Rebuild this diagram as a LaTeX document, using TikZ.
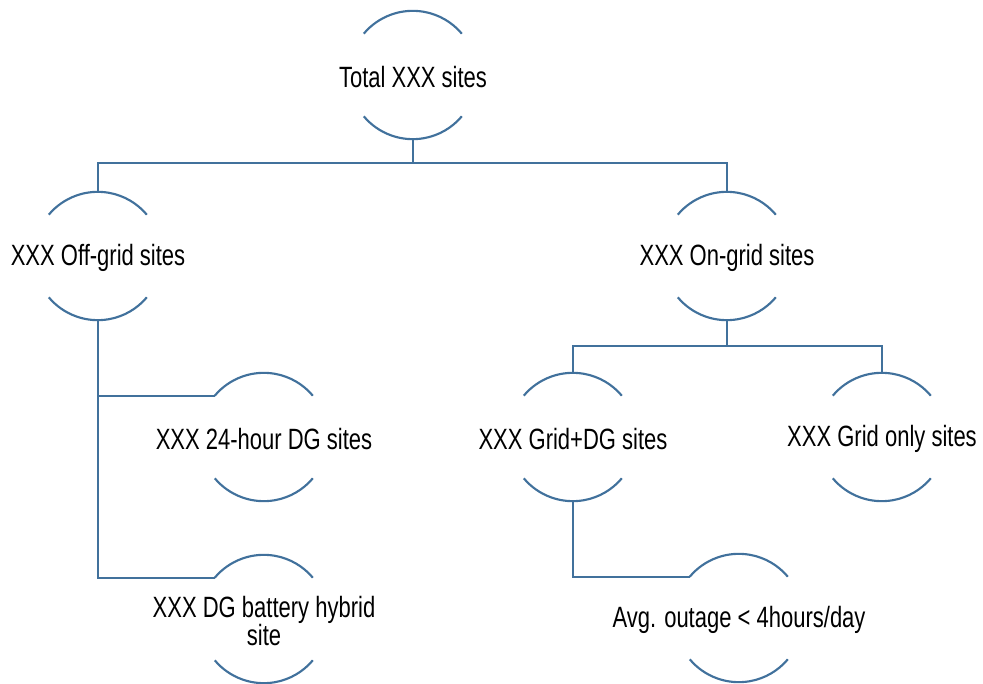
\documentclass[tikz,border=0pt]{standalone}
\usepackage{fontspec}
\setmainfont{Liberation Sans}[FakeStretch=0.75]
\definecolor{rimblue}{RGB}{65,113,156}
\begin{document}
\begin{tikzpicture}
  [x=0.75pt,y=-0.75pt,
   site/.style={circle,minimum size=96pt,inner sep=0pt},
   sitetext/.style={align=center,inner sep=0pt,yshift=-1.5pt,
     font=\fontsize{22}{20.25}\selectfont},
   rim/.style={draw=rimblue,line width=1.6pt},
   link/.style={draw=rimblue,line width=1.6pt}]
  \useasboundingbox (0,0) rectangle (983,684);
  \node[site,label={[sitetext]center:Total XXX sites}] (total) at (413,75) {};
  \node[site,label={[sitetext]center:XXX Off-grid sites}] (off) at (98,256) {};
  \node[site,label={[sitetext]center:XXX On-grid sites}] (on) at (727,256) {};
  \node[site,label={[sitetext]center:XXX 24-hour DG sites}] (dg24) at (264,437) {};
  \node[site,label={[sitetext]center:XXX DG battery hybrid\\site}] (hybrid) at (264,619) {};
  \node[site,label={[sitetext]center:XXX Grid+DG sites}] (griddg) at (573,437) {};
  \node[site,label={[sitetext]center:XXX Grid only sites}] (gridonly) at (882,437) {};
  \node[site,label={[sitetext]center:Avg. outage < 4hours/day}] (outage) at (739,618) {};

  \foreach \n in {total,off,on,dg24,hybrid,griddg,gridonly,outage}
    \draw[rim] (\n.140) arc[start angle=140,end angle=40,radius=48pt]
      (\n.220) arc[start angle=220,end angle=320,radius=48pt];

  \draw[link] (total.south) -- ++(0,24) -| (off.north);
  \draw[link] (total.south) -- ++(0,24) -| (on.north);
  \draw[link] (on.south) -- ++(0,26) -| (griddg.north);
  \draw[link] (on.south) -- ++(0,26) -| (gridonly.north);
  \draw[link] (off.south) |- (dg24.140);
  \draw[link] (off.south) |- (hybrid.140);
  \draw[link] (griddg.south) |- (outage.140);

\end{tikzpicture}
\end{document}
